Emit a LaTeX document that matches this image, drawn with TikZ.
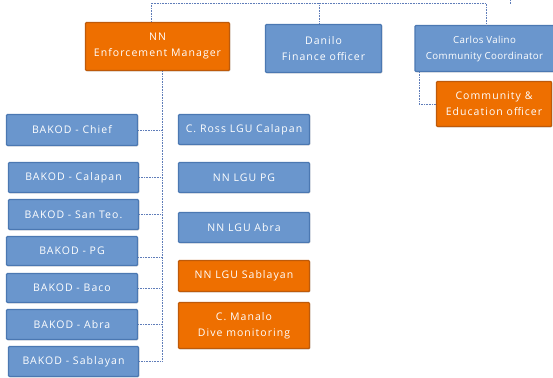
\documentclass[tikz,border=0pt]{standalone}
\usepackage{fontspec}
\setmainfont{Open Sans}[LetterSpace=10]
\usetikzlibrary{shadows}
\definecolor{bfill}{RGB}{106,150,205}
\definecolor{bdraw}{RGB}{75,120,178}
\definecolor{ofill}{RGB}{238,111,0}
\definecolor{odraw}{RGB}{190,90,10}
\definecolor{lcol}{RGB}{95,125,185}
\tikzset{
  box/.style={rectangle, rounded corners=1pt, line width=1.4pt, inner sep=0pt,
    text=white, align=center, font=\fontsize{10.5}{16}\selectfont,
    drop shadow={shadow xshift=0.8pt, shadow yshift=-0.8pt, fill=black!45, opacity=0.5}},
  bluebox/.style={box, fill=bfill, draw=bdraw},
  orangebox/.style={box, fill=ofill, draw=odraw},
  conn/.style={draw=lcol, line width=0.7pt, dash pattern=on 1pt off 0.6pt}
}
\begin{document}
\begin{tikzpicture}[x=1pt, y=-1pt]
\useasboundingbox (0,0) rectangle (553,377);
% top row
\node[orangebox, minimum width=144pt, minimum height=48pt] (nn) at (157.5,46.5) {NN\\Enforcement Manager};
\node[bluebox, minimum width=116pt, minimum height=48pt] (danilo) at (323.5,48.5) {Danilo\\Finance officer};
\node[bluebox, minimum width=139pt, minimum height=46pt, font=\fontsize{9.7}{16}\selectfont\addfontfeature{LetterSpace=4}] (carlos) at (484.5,48.5) {Carlos Valino\\Community Coordinator};
\node[orangebox, minimum width=115pt, minimum height=45pt] (comm) at (494,104) {Community \&\\Education officer};
% left column
\node[bluebox, minimum width=131pt, minimum height=31pt] (chief) at (72,130) {BAKOD - Chief};
\node[bluebox, minimum width=130pt, minimum height=30pt] (calapan) at (73.5,177.5) {BAKOD - Calapan};
\node[bluebox, minimum width=130pt, minimum height=30pt] (santeo) at (73.5,214.5) {BAKOD - San Teo.};
\node[bluebox, minimum width=131pt, minimum height=29pt] (pg) at (72,251) {BAKOD - PG};
\node[bluebox, minimum width=131pt, minimum height=29pt] (baco) at (72,288) {BAKOD - Baco};
\node[bluebox, minimum width=131pt, minimum height=30pt] (abra) at (72,324.5) {BAKOD - Abra};
\node[bluebox, minimum width=130pt, minimum height=30pt] (sablayan) at (73.5,361.5) {BAKOD - Sablayan};
% right column
\node[bluebox, minimum width=131pt, minimum height=30pt] (ross) at (244,129.5) {C. Ross LGU Calapan};
\node[bluebox, minimum width=131pt, minimum height=30pt] (lgupg) at (244,177.5) {NN LGU PG};
\node[bluebox, minimum width=131pt, minimum height=30pt] (lguabra) at (244,227.5) {NN LGU Abra};
\node[orangebox, minimum width=131pt, minimum height=31pt] (lgusab) at (244,276) {NN LGU Sablayan};
\node[orangebox, minimum width=131pt, minimum height=46pt] (manalo) at (244,325.5) {C. Manalo\\Dive monitoring};
% connectors
\coordinate (topy) at (0,3.5);
\coordinate (trunkend) at (162,360);
\coordinate (tickend) at (510,0);
\draw[conn] ([xshift=-6.5pt]nn.north) |- ([xshift=1.5pt]carlos.north |- topy) -- ([xshift=1.5pt]carlos.north);
\draw[conn] ([xshift=-4.5pt]danilo.north |- topy) -- ([xshift=-4.5pt]danilo.north);
\draw[conn] (tickend) -- ++(0,4);
\draw[conn] (nn.south -| trunkend) -- (trunkend);
\foreach \b in {chief,calapan,santeo,baco,abra,sablayan}
  \draw[conn] (\b.east) -- (\b.east -| trunkend);
\draw[conn] ([yshift=-6pt]pg.east) -- ([yshift=-6pt]pg.east -| trunkend);
\draw[conn] (carlos.south -| 419,0) |- (comm.west);
\end{tikzpicture}
\end{document}
